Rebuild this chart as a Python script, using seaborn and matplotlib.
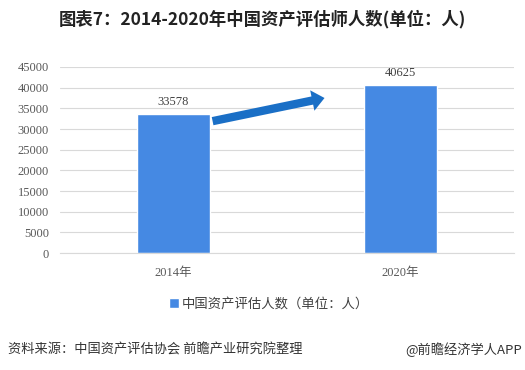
import pandas as pd
import matplotlib
matplotlib.use("Agg")
import matplotlib.pyplot as plt
import seaborn as sns

# data
years = ["2014年", "2020年"]
counts = [33578, 40625]
yticks = [0, 5000, 10000, 15000, 20000, 25000, 30000, 35000, 40000, 45000]

df = pd.DataFrame({"year": years, "count": counts})

sns.set_style("white")
plt.rcParams['font.family'] = ['Liberation Serif', 'Noto Sans CJK SC', 'DejaVu Sans']

fig = plt.figure(figsize=(5.25, 3.7), dpi=100)
ax = fig.add_axes([0.1143, 0.316, 0.865, 0.503])

bar_color = "#4589e3"
sns.barplot(data=df, x="year", y="count", color=bar_color, width=0.32,
            saturation=1, ax=ax, label="中国资产评估人数（单位：人）")

ax.set_ylim(0, 45000)
ax.set_yticks(yticks)
ax.set_yticklabels([str(t) for t in yticks], fontsize=9, color="#595959")
ax.tick_params(axis="x", labelsize=9, colors="#595959", length=0, pad=10)
ax.tick_params(axis="y", length=0, pad=8)
ax.set_xlabel("")
ax.set_ylabel("")
ax.grid(axis="y", color="#d9d9d9", linewidth=0.8)
ax.set_axisbelow(True)
for s in ["top", "right", "left"]:
    ax.spines[s].set_visible(False)
ax.spines["bottom"].set_color("#d9d9d9")

# value labels
for i, v in enumerate(counts):
    ax.text(i, v + 1500, str(v), ha="center", va="bottom", fontsize=9, color="#404040")

# growth arrow
ax.annotate("", xy=(0.665, 37500), xytext=(0.172, 31900),
            arrowprops=dict(arrowstyle="simple,head_length=0.9,head_width=1.5,tail_width=0.6",
                            color="#1a6fc6", lw=0, mutation_scale=10,
                            shrinkA=0, shrinkB=0))

# legend
handles, labels = ax.get_legend_handles_labels()
leg = ax.legend(handles[:1], labels[:1], loc="upper center", bbox_to_anchor=(0.46, -0.17),
                frameon=False, handlelength=0.7, handleheight=0.7, handletextpad=0.2,
                prop={"family": ["Noto Sans CJK SC"], "size": 9.6})
for t in leg.get_texts():
    t.set_color("#404040")

# title and footer
fig.text(0.5, 0.948, "图表7：2014-2020年中国资产评估师人数(单位：人)", ha="center", va="center",
         fontsize=12.5, fontweight="bold", color="#222222",
         family=["Noto Sans CJK SC"])
fig.text(0.015, 0.055, "资料来源：中国资产评估协会 前瞻产业研究院整理", ha="left", va="center",
         fontsize=9.5, color="#333333", family=["Noto Sans CJK SC"])
fig.text(0.995, 0.055, "@前瞻经济学人APP", ha="right", va="center",
         fontsize=9.5, color="#333333", family=["Noto Sans CJK SC"])

fig.savefig("out.png", dpi=100)
